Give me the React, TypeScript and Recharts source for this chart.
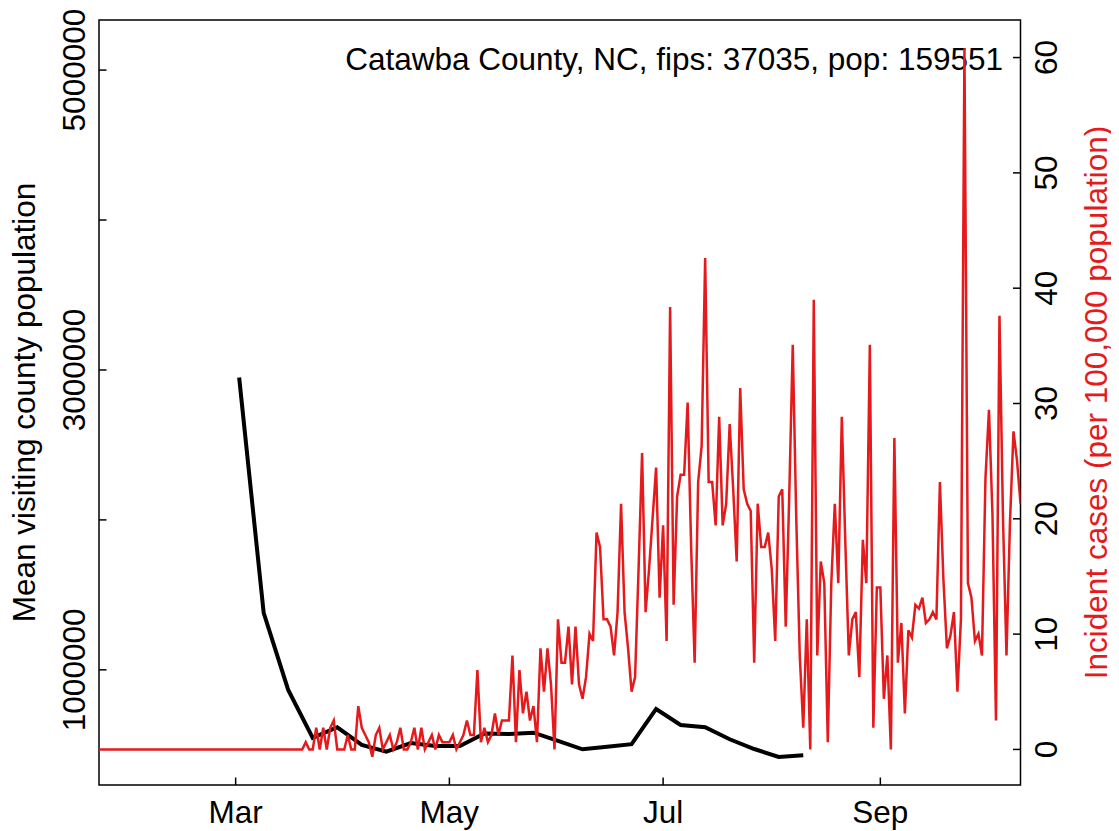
import React from "react";
import { LineChart, Line, XAxis, YAxis, ReferenceArea, Customized } from "recharts";

// day index 0 = 2020-01-22
const monthTicks = [39, 100, 161, 223];
const monthLabels = ["Mar", "May", "Jul", "Sep"];

const mobilityTicks = [1000000, 2000000, 3000000, 4000000, 5000000];
const mobilityLabels = ["1000000", "", "3000000", "", "5000000"];
const incidenceTicks = [0, 10, 20, 30, 40, 50, 60];

// weekly mean visiting county population
const mobilityDays = [40, 47, 54, 61, 68, 75, 82, 89, 96, 103, 110, 117, 124, 131, 138, 145, 152, 159, 166, 173, 180, 187, 194, 201];
const mobility = [
  2950000, 1380000, 866000, 546000, 617000, 499000, 454000, 512000, 492000, 492000, 576000, 572000,
  581000, 526000, 470000, 487000, 504000, 739000, 632000, 617000, 537000, 472000, 419000, 430000,
];

// daily incident cases per 100,000
const incidence = [
  0, 0, 0, 0, 0, 0, 0, 0, 0, 0, 0, 0, 0, 0, 0, 0, 0, 0, 0, 0,
  0, 0, 0, 0, 0, 0, 0, 0, 0, 0, 0, 0, 0, 0, 0, 0, 0, 0, 0, 0,
  0, 0, 0, 0, 0, 0, 0, 0, 0, 0, 0, 0, 0, 0, 0, 0, 0, 0,
  0, 0.63, 0, 0, 1.88, 0, 1.88, 0, 1.88, 2.51,
  0, 0, 0, 1.25, 0, 0, 3.76, 1.88, 1.25, 0.63,
  -0.63, 1.25, 1.88, 0, 0.63, 1.25, 0, 0.63, 1.88, 0,
  0, 0.63, 1.88, 0, 1.88, 0, 0.63, 1.25, 0, 1.25,
  0.63, 0.63, 0.63, 1.25, 0, 0.63, 1.25, 2.51, 1.25, 1.25,
  6.89, 0.63, 1.88, 0.63, 1.25, 3.13, 1.25, 2.51, 2.51, 2.51,
  8.15, 0.63, 6.89, 3.13, 5.01, 2.51, 3.76, 0.63, 8.77, 5.01,
  8.77, 5.64, 0, 11.28, 7.52, 7.52, 10.65, 5.64, 10.65, 5.64,
  4.39, 6.27, 10.03, 9.4, 18.8, 17.55, 11.28, 11.28, 10.65, 8.15,
  11.91, 21.31, 11.91, 8.77, 5.01, 6.27, 15.67, 25.7, 11.91, 15.67,
  20.06, 24.45, 13.16, 19.43, 9.4, 38.37, 12.54, 21.94, 23.82, 23.82,
  30.09, 17.55, 7.52, 23.19, 26.33, 42.62, 23.19, 23.19, 19.43, 28.84,
  19.43, 21.31, 28.21, 22.56, 16.3, 31.34, 22.56, 21.31, 20.68, 7.52,
  21.31, 17.55, 17.55, 18.8, 15.67, 9.4, 21.94, 22.56, 10.65, 22.0,
  35.1, 20.06, 8.15, 1.88, 11.28, 0, 38.99, 8.15, 16.3, 14.42,
  0.63, 14.42, 21.31, 14.42, 28.84, 18.0, 8.15, 11.28, 11.91, 6.27,
  18.18, 14.42, 35.1, 1.88, 14.04, 14.04, 4.39, 8.15, 0, 27.0,
  7.52, 10.97, 3.13, 10.34, 9.71, 12.54, 12.22, 13.16, 10.97, 11.28,
  11.91, 11.28, 23.19, 14.73, 8.77, 9.87, 11.91, 5.01, 11.28, 60.8,
  14.42, 13.16, 9.4, 10.03, 8.15, 23.51, 29.46, 20.37, 2.51, 37.6,
  20.06, 8.15, 19.74, 27.58, 25.07, 21.31,
];

const incidenceData = incidence.map((v, i) => ({ day: i, incidence: v }));
const mobilityData = mobilityDays.map((d, i) => ({ day: d, mobility: mobility[i] }));

const FONT = "'Liberation Sans', Arial, Helvetica, sans-serif";
const FS = 31.5;
const TICK = 7.5;
const RED = "#E41A1C";
const dayDomain = [0, 263];
const mobDomain = [232000, 5334000];
const incDomain = [-3.084, 63.257];

const W = 1111;
const H = 823;
const PLOT_L = 91;
const PLOT_R = 1012.5;
const PLOT_T = 12;
const PLOT_B = 777;

function MonthTick({ x, y, payload }: any) {
  const i = monthTicks.indexOf(payload.value);
  return (
    <g>
      <line x1={x} y1={y} x2={x} y2={y - TICK} stroke="#000" strokeWidth={1.5} />
      <text x={x} y={y + 38} textAnchor="middle" fontSize={FS} fontFamily={FONT} fill="#000">
        {monthLabels[i]}
      </text>
    </g>
  );
}

function MobilityTick({ x, y, payload }: any) {
  const i = mobilityTicks.indexOf(payload.value);
  const bx = x - 14;
  return (
    <g>
      <line x1={x} y1={y} x2={x + TICK} y2={y} stroke="#000" strokeWidth={1.5} />
      {mobilityLabels[i] && (
        <text x={bx} y={y} transform={`rotate(-90, ${bx}, ${y})`} textAnchor="middle" fontSize={FS} fontFamily={FONT} fill="#000">
          {mobilityLabels[i]}
        </text>
      )}
    </g>
  );
}

function IncidenceTick({ x, y, payload }: any) {
  const bx = x + 36.5;
  return (
    <g>
      <line x1={x} y1={y} x2={x - TICK} y2={y} stroke="#000" strokeWidth={1.5} />
      <text x={bx} y={y} transform={`rotate(-90, ${bx}, ${y})`} textAnchor="middle" fontSize={FS} fontFamily={FONT} fill="#000">
        {payload.value}
      </text>
    </g>
  );
}

function Annotations() {
  const cy = (PLOT_T + PLOT_B) / 2;
  return (
    <g fontFamily={FONT} fontSize={FS}>
      <text x={995} y={61.5} textAnchor="end" fill="#000">
        Catawba County, NC, fips: 37035, pop: 159551
      </text>
      <text x={26.5} y={cy} transform={`rotate(-90, 26.5, ${cy})`} textAnchor="middle" fill="#000">
        Mean visiting county population
      </text>
      <text x={1098.7} y={cy} transform={`rotate(-90, 1098.7, ${cy})`} textAnchor="middle" fill={RED}>
        Incident cases (per 100,000 population)
      </text>
    </g>
  );
}

export default function App() {
  return (
    <LineChart width={W} height={H} margin={{ top: PLOT_T, right: 0, bottom: 0, left: 0 }}>
      <XAxis
        xAxisId="day"
        type="number"
        dataKey="day"
        domain={dayDomain}
        ticks={monthTicks}
        interval={0}
        allowDataOverflow
        height={H - PLOT_B}
        axisLine={false}
        tickLine={false}
        tickSize={0}
        tickMargin={0}
        tick={<MonthTick />}
      />
      <YAxis
        yAxisId="left"
        orientation="left"
        type="number"
        domain={mobDomain}
        ticks={mobilityTicks}
        interval={0}
        allowDataOverflow
        width={PLOT_L}
        axisLine={false}
        tickLine={false}
        tickSize={0}
        tickMargin={0}
        tick={<MobilityTick />}
      />
      <YAxis
        yAxisId="right"
        orientation="right"
        type="number"
        domain={incDomain}
        ticks={incidenceTicks}
        interval={0}
        allowDataOverflow
        width={W - PLOT_R}
        axisLine={false}
        tickLine={false}
        tickSize={0}
        tickMargin={0}
        tick={<IncidenceTick />}
      />
      <Customized component={<Annotations />} />
      <Line
        xAxisId="day"
        yAxisId="left"
        data={mobilityData}
        dataKey="mobility"
        type="linear"
        stroke="#000"
        strokeWidth={4}
        dot={false}
        activeDot={false}
        isAnimationActive={false}
      />
      <Line
        xAxisId="day"
        yAxisId="right"
        data={incidenceData}
        dataKey="incidence"
        type="linear"
        stroke={RED}
        strokeWidth={2.5}
        dot={false}
        activeDot={false}
        isAnimationActive={false}
      />
      <ReferenceArea
        xAxisId="day"
        yAxisId="right"
        x1={dayDomain[0]}
        x2={dayDomain[1]}
        y1={incDomain[0]}
        y2={incDomain[1]}
        fill="none"
        fillOpacity={0}
        stroke="#000"
        strokeWidth={1.5}
        ifOverflow="visible"
      />
    </LineChart>
  );
}
